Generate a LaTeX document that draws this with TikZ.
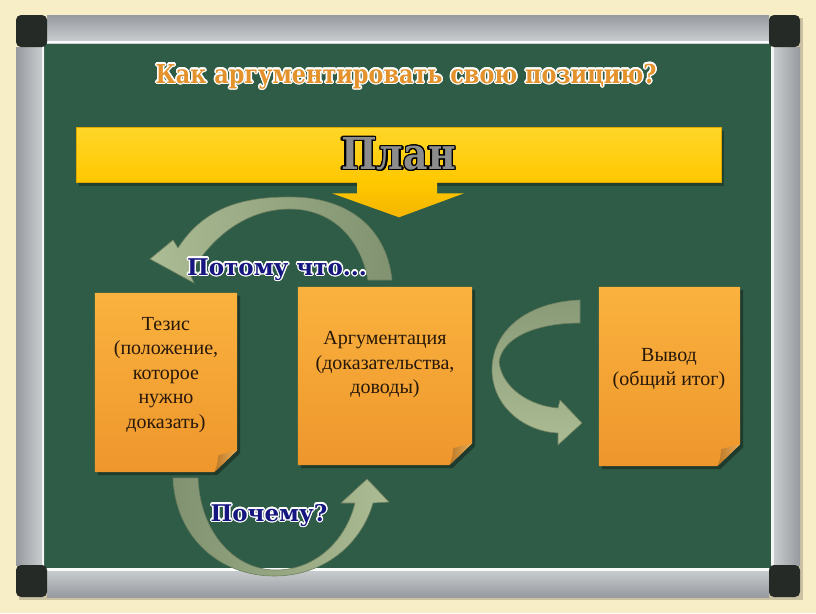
\documentclass[tikz,border=0pt]{standalone}
\usepackage{fontspec}
\setmainfont{Liberation Serif}
\newfontfamily\headfont{DejaVu Serif}
\newfontfamily\headnarrow{DejaVu Serif}[FakeStretch=0.86]
\usepackage{contour}
\usetikzlibrary{calc}
\definecolor{cream}{RGB}{247,237,198}
\definecolor{board}{RGB}{47,92,70}
\definecolor{silverA}{RGB}{150,154,158}
\definecolor{silverB}{RGB}{205,208,211}
\definecolor{cornerdark}{RGB}{38,42,39}
\definecolor{sageL}{RGB}{172,188,148}
\definecolor{sageD}{RGB}{128,146,112}
\definecolor{sageEdge}{RGB}{110,128,96}
\definecolor{yellowT}{RGB}{255,214,40}
\definecolor{yellowB}{RGB}{255,200,0}
\definecolor{yellowTip}{RGB}{245,182,0}
\definecolor{yellowEdge}{RGB}{222,168,0}
\definecolor{noteT}{RGB}{250,178,62}
\definecolor{noteB}{RGB}{238,150,44}
\definecolor{foldD}{RGB}{186,120,40}
\definecolor{foldL}{RGB}{236,172,84}
\definecolor{notebrown}{RGB}{40,24,10}
\definecolor{titleorange}{RGB}{228,146,44}
\definecolor{navy}{RGB}{22,22,128}
\definecolor{plangray}{RGB}{140,140,140}
\pgfdeclarelayer{boardlayer}
\pgfdeclarelayer{notelayer}
\pgfsetlayers{boardlayer,notelayer,main}
\newcommand\drawnotebody[1]{%
  \begin{pgfonlayer}{notelayer}
    \fill[black,opacity=0.35] ($(#1.north west)+(3,3)$) -- ($(#1.north east)+(3,3)$) -- ($(#1.south east)+(3,-19)$) -- ($(#1.south east)+(-20,3)$) -- ($(#1.south west)+(3,3)$) -- cycle;
    \shade[top color=noteT, bottom color=noteB] (#1.north west) -- (#1.north east) -- ($(#1.south east)+(0,-22)$) -- ($(#1.south east)+(-23,0)$) -- (#1.south west) -- cycle;
    \shade[left color=foldD, right color=foldL] ($(#1.south east)+(-23,0)$) .. controls ($(#1.south east)+(-20,-7)$) .. ($(#1.south east)+(-19,-17)$) -- ($(#1.south east)+(0,-22)$) -- cycle;
  \end{pgfonlayer}}
\begin{document}
\begin{tikzpicture}[x=1pt,y=-1pt,
  notebox/.style={rectangle, inner sep=0pt, draw=none},
  notetext/.style={align=center, inner sep=0pt, text=notebrown, font=\fontsize{20}{24.5}\selectfont},
  banner/.style={rectangle, inner sep=0pt, minimum width=645, minimum height=55, top color=yellowT, bottom color=yellowB, draw=yellowEdge, line width=0.6pt, text=plangray, font=\headnarrow\bfseries\fontsize{44}{48}\selectfont},
  headtitle/.style={inner sep=0pt, text=titleorange, font=\headnarrow\bfseries\fontsize{26}{30}\selectfont},
  headblue/.style={inner sep=0pt, text=navy, font=\headfont\bfseries\fontsize{23}{27}\selectfont},
  ribbon/.style={draw=sageEdge, line width=0.6pt}]
\useasboundingbox (0,0) rectangle (816,613);
\begin{pgfonlayer}{boardlayer}
  % background
  \fill[cream] (0,0) rectangle (816,613);
  \fill[black,opacity=0.18] (19,18) rectangle (803,600);
  % board
  \fill[board] (44,43) rectangle (771,568);
  % frame bars
  \shade[top color=silverA, bottom color=silverB] (47,15) rectangle (769,43);
  \fill[white,opacity=0.9] (47,40.5) rectangle (769,43);
  \shade[top color=silverB, bottom color=silverA] (47,568) rectangle (769,597);
  \fill[white,opacity=0.9] (47,568) rectangle (769,571);
  \shade[left color=silverA, right color=silverB] (16,47) rectangle (44,565);
  \fill[white,opacity=0.8] (41.5,47) rectangle (44,565);
  \shade[left color=silverB, right color=silverA] (771,47) rectangle (800,565);
  \fill[white,opacity=0.8] (771,47) rectangle (773.5,565);
  % corners
  \fill[cornerdark, rounded corners=5pt] (16,15) rectangle (47,47);
  \fill[cornerdark, rounded corners=5pt] (769,15) rectangle (800,47);
  \fill[cornerdark, rounded corners=5pt] (16,565) rectangle (47,597);
  \fill[cornerdark, rounded corners=5pt] (769,565) rectangle (800,597);
  % banner shadow
  \fill[black,opacity=0.3] (79,131) rectangle (724,186);
  % ribbon arrows
  \shade[ribbon, left color=sageL, right color=sageD]
    (178,248) .. controls (205,206) and (245,197) .. (290,197)
    .. controls (345,197) and (386,225) .. (392,280) -- (368,280)
    .. controls (360,236) and (330,209) .. (290,209)
    .. controls (247,209) and (212,236) .. (190,274) -- (194,283) -- (150,259) -- (173,240) -- cycle;
  \shade[ribbon, left color=sageD, right color=sageL]
    (173,478) .. controls (176,540) and (222,576) .. (274,576)
    .. controls (326,576) and (362,542) .. (373,503) -- (389,502) -- (367,479) -- (341,503) -- (355,503)
    .. controls (346,540) and (316,570) .. (276,570)
    .. controls (234,570) and (200,532) .. (198,478) -- cycle;
  \shade[ribbon, top color=sageD!80!sageL, bottom color=sageL]
    (580,300) .. controls (528,302) and (491,330) .. (492,372)
    .. controls (494,410) and (528,432) .. (558,433) -- (558,445) -- (582,423) -- (560,400) -- (558,408)
    .. controls (530,406) and (502,388) .. (499,362)
    .. controls (502,338) and (535,323) .. (580,323) -- cycle;
\end{pgfonlayer}
% banner and its arrow
\node[banner] (plan) at (398.5,154.5) {\contourlength{1.3pt}\contour{black}{План}};
\shade[top color=yellowB, bottom color=yellowTip]
  ($(plan.south)+(-41.5,-0.3)$) -- ($(plan.south)+(38.5,-0.3)$) -- ($(plan.south)+(38.5,11)$) -- ($(plan.south)+(65.5,11)$)
  -- ($(plan.south)+(0.5,35)$) -- ($(plan.south)+(-66.5,11)$) -- ($(plan.south)+(-41.5,11)$) -- cycle;
% notes
\node[notebox, minimum width=142, minimum height=179] (thesis) at (166,382.5) {};
\node[notebox, minimum width=174, minimum height=178] (argum) at (385,376) {};
\node[notebox, minimum width=141, minimum height=179] (concl) at (669.5,376.5) {};
\drawnotebody{thesis}
\drawnotebody{argum}
\drawnotebody{concl}
\node[notetext] (thesisT) at (166,375) {Тезис\\(положение,\\которое\\нужно\\доказать)};
\node[notetext] (argumT) at (385,365) {Аргументация\\(доказательства,\\доводы)};
\node[notetext] (conclT) at (669,369) {Вывод\\(общий итог)};
% headings
\node[headtitle, anchor=base] (title) at (406,83) {\contourlength{1.4pt}\contour{white}{Как аргументировать свою позицию?}};
\node[headblue, anchor=base] (because) at (277,275) {\contourlength{1.3pt}\contour{white}{Потому что...}};
\node[headblue, anchor=base] (why) at (269,521) {\contourlength{1.3pt}\contour{white}{Почему?}};
\end{tikzpicture}
\end{document}
